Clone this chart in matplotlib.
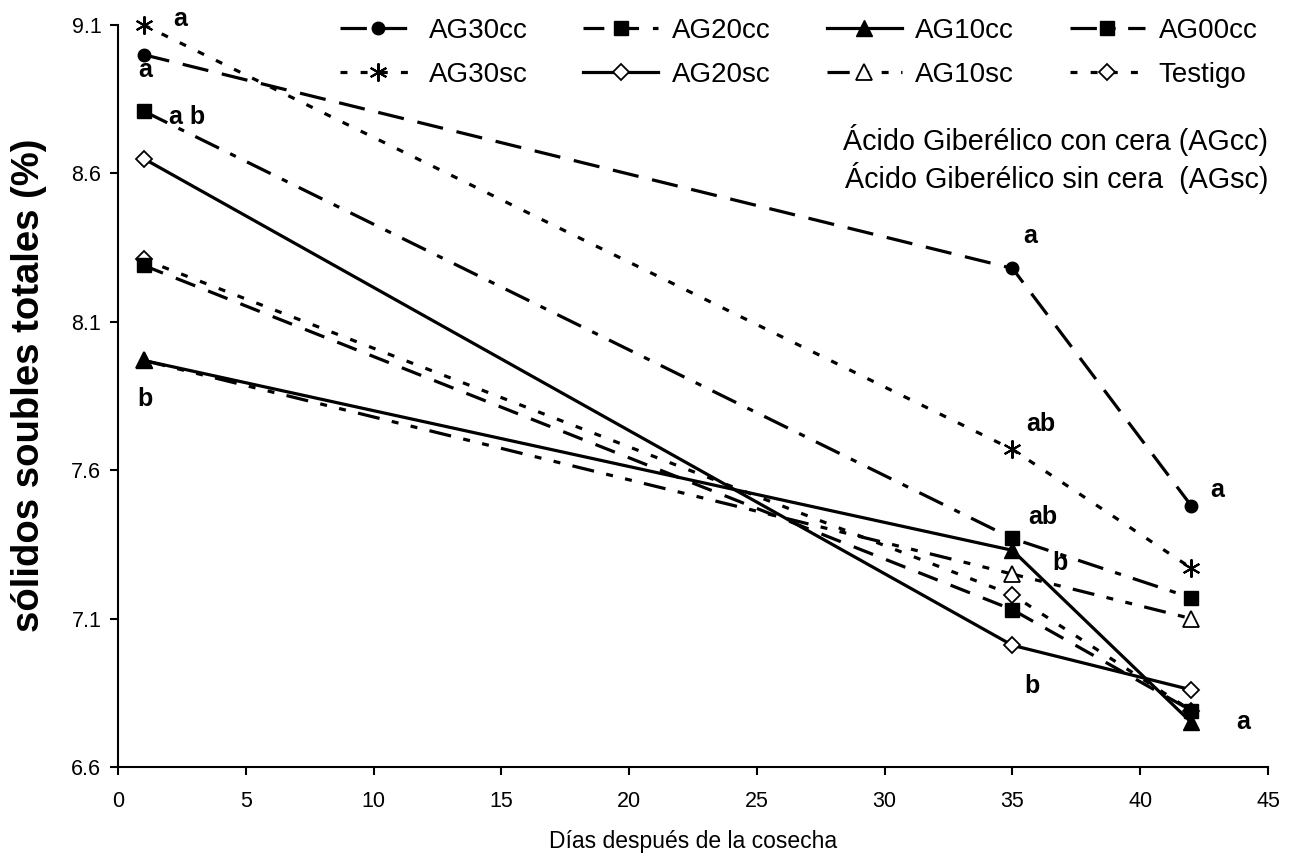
import matplotlib
matplotlib.use("Agg")
import matplotlib.pyplot as plt

plt.rcParams['font.family'] = ['Liberation Sans', 'DejaVu Sans']
plt.rcParams['lines.scale_dashes'] = False

days = [1, 35, 42]
ag30cc = [9.00, 8.28, 7.48]
ag20cc = [8.29, 7.13, 6.79]
ag10cc = [7.97, 7.33, 6.75]
ag00cc = [8.81, 7.37, 7.17]
ag30sc = [9.10, 7.67, 7.27]
ag20sc = [8.65, 7.01, 6.86]
ag10sc = [7.97, 7.25, 7.10]
testigo = [8.31, 7.18, 6.79]

labels = ["AG30cc", "AG20cc", "AG10cc", "AG00cc",
          "AG30sc", "AG20sc", "AG10sc", "Testigo"]

yticks = [6.6, 7.1, 7.6, 8.1, 8.6, 9.1]
xticks = [0, 5, 10, 15, 20, 25, 30, 35, 40, 45]

# significance letters: (text, x, y)
sig_letters = [
    ("a", 2.43, 9.12), ("a", 1.06, 8.95), ("a b", 2.7, 8.79), ("b", 1.06, 7.84),
    ("a", 35.69, 8.39), ("ab", 36.1, 7.756), ("a", 43.0, 7.533),
    ("ab", 36.2, 7.442), ("b", 36.86, 7.287), ("b", 35.76, 6.873), ("a", 44.02, 6.752),
]

fig = plt.figure(figsize=(12.98, 8.58), dpi=100)
ax = fig.add_axes([118/1298, 1-767/858, 1150/1298, 742/858])

lw = 2.3
styles = {
    "AG30cc": dict(ls=(0, (19, 10)), marker='o', mfc='black', ms=9, z=4),
    "AG20cc": dict(ls=(0, (15, 10)), marker='s', mfc='black', ms=10, z=4),
    "AG10cc": dict(ls='-', marker='^', mfc='black', ms=11, z=5),
    "AG00cc": dict(ls=(0, (19, 9, 4.5, 9)), marker='s', mfc='black', ms=10, z=4),
    "AG30sc": dict(ls=(0, (5, 9.5)), marker=(6, 2, 0), mfc='black', ms=13, mew=1.5, z=3),
    "AG20sc": dict(ls='-', marker='D', mfc='white', ms=8.5, mew=1.3, z=3),
    "AG10sc": dict(ls=(0, (16, 9, 5, 9, 5, 9)), marker='^', mfc='white', ms=11, mew=1.3, z=3),
    "Testigo": dict(ls=(0, (5, 9.5)), marker='D', mfc='white', ms=8.5, mew=1.3, z=3),
}
series = {
    "AG30cc": ag30cc, "AG20cc": ag20cc, "AG10cc": ag10cc, "AG00cc": ag00cc,
    "AG30sc": ag30sc, "AG20sc": ag20sc, "AG10sc": ag10sc, "Testigo": testigo,
}

handles = {}
for name in labels:
    st = dict(styles[name])
    z = st.pop('z')
    h, = ax.plot(days, series[name], color='black', lw=lw, mec='black',
                 linestyle=st.pop('ls'), clip_on=False, zorder=z, label=name, **st)
    handles[name] = h

ax.set_xlim(0, 45)
ax.set_ylim(6.6, 9.1)
ax.set_xticks(xticks)
ax.set_yticks(yticks)
ax.set_yticklabels([f"{v:.1f}" for v in yticks])
for s in ['top', 'right']:
    ax.spines[s].set_visible(False)
for s in ['left', 'bottom']:
    ax.spines[s].set_linewidth(1.5)
ax.tick_params(direction='out', length=6, width=1.5, labelsize=15.5)
ax.tick_params(axis='x', pad=11)
ax.tick_params(axis='y', pad=6)

ax.set_xlabel("Días después de la cosecha", fontsize=16.5, labelpad=13)
ax.set_ylabel("sólidos soubles totales (%)", fontsize=27.5, fontweight='bold')
ax.yaxis.set_label_coords(-0.062, 0.515)

for t, x, y in sig_letters:
    ax.text(x, y, t, fontsize=18, fontweight='bold', ha='center', va='center', clip_on=False)

order = ["AG30cc", "AG30sc", "AG20cc", "AG20sc", "AG10cc", "AG10sc", "AG00cc", "Testigo"]
leg = fig.legend([handles[n] for n in order], order, ncol=4, frameon=False,
                 loc='upper left', bbox_to_anchor=(315/1298, 1+7/858),
                 fontsize=20, handlelength=2.7, handletextpad=0.5,
                 columnspacing=2.0, labelspacing=0.65, numpoints=1)

fig.text(1268/1298, 1-140/858, "Ácido Giberélico con cera (AGcc)", fontsize=20.7,
         ha='right', va='center')
fig.text(1268/1298, 1-178/858, "Ácido Giberélico sin cera  (AGsc)", fontsize=20.7,
         ha='right', va='center')

fig.savefig("out.png", dpi=100)
